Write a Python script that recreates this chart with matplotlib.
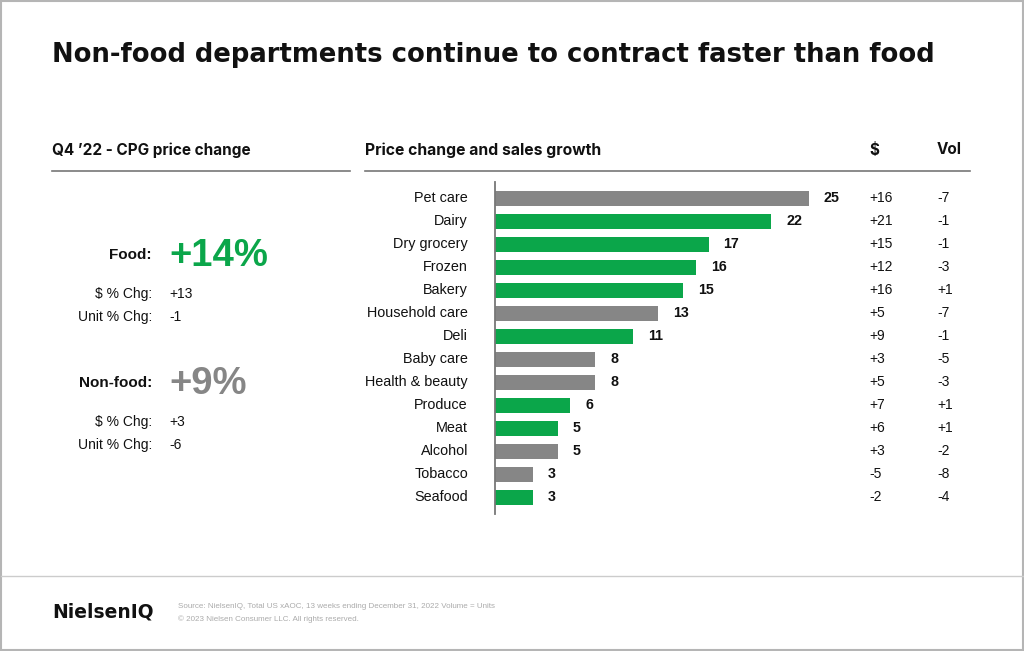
import matplotlib
matplotlib.use("Agg")
import matplotlib.pyplot as plt
from matplotlib.patches import Rectangle

categories = ["Pet care", "Dairy", "Dry grocery", "Frozen", "Bakery", "Household care",
              "Deli", "Baby care", "Health & beauty", "Produce", "Meat", "Alcohol",
              "Tobacco", "Seafood"]
price_change = [25, 22, 17, 16, 15, 13, 11, 8, 8, 6, 5, 5, 3, 3]
is_food = [False, True, True, True, True, False, True, False, False, True, True, False, False, True]
dollar_chg = ["+16", "+21", "+15", "+12", "+16", "+5", "+9", "+3", "+5", "+7", "+6", "+3", "-5", "-2"]
vol_chg = ["-7", "-1", "-1", "-3", "+1", "-7", "-1", "-5", "-3", "+1", "+1", "-2", "-8", "-4"]

summary_groups = ["Food:", "Non-food:"]
summary_price = ["+14%", "+9%"]
summary_dollar = ["+13", "+3"]
summary_unit = ["-1", "-6"]

GREEN = "#0BA64A"
GRAY = "#868686"
INK = "#111111"
BODY = ["Liberation Sans", "DejaVu Sans"]
HEAD = ["Inter", "DejaVu Sans"]
WIDE = ["DejaVu Sans"]

W, H = 1024, 651
fig = plt.figure(figsize=(W / 100, H / 100), dpi=100)
bg = fig.add_axes([0, 0, 1, 1])
bg.set_xlim(0, W)
bg.set_ylim(H, 0)
bg.axis("off")

# outer border and footer rule
bg.add_patch(Rectangle((1, 1), W - 2.5, H - 2.5, fill=False, ec="#b5b5b5", lw=1.5))
bg.plot([1, W - 1], [576, 576], color="#cccccc", lw=1)

# title
bg.text(52, 55, "Non-food departments continue to contract faster than food",
        fontsize=18.6, fontweight="bold", family=WIDE, color=INK, va="center", ha="left")

# section headers
bg.text(52, 150, "Q4 \u201922 - CPG price change", fontsize=11, fontweight="bold",
        family=HEAD, color=INK, va="center")
bg.text(365, 150, "Price change and sales growth", fontsize=11.3, fontweight="bold",
        family=HEAD, color=INK, va="center")
bg.text(869, 150, "$", fontsize=11, fontweight="bold", family=HEAD, color=INK, va="center")
bg.text(937, 150, "Vol", fontsize=11, fontweight="bold", family=HEAD, color=INK, va="center")
bg.plot([52, 350], [171, 171], color="#777777", lw=1.2)
bg.plot([365, 970], [171, 171], color="#777777", lw=1.2)

# left summary panel
base_y = [255, 383]
sum_colors = [GREEN, GRAY]
for g, p, d, u, y0, c in zip(summary_groups, summary_price, summary_dollar, summary_unit,
                             base_y, sum_colors):
    bg.text(152, y0, g, fontsize=11, fontweight="bold", family=BODY, color=INK,
            ha="right", va="center")
    bg.text(169, y0 + 1, p, fontsize=27.5, fontweight="bold", family=BODY, color=c,
            ha="left", va="center")
    bg.text(152, y0 + 39, "$ % Chg:", fontsize=10, family=BODY, color=INK, ha="right", va="center")
    bg.text(169, y0 + 39, d, fontsize=10, family=BODY, color=INK, ha="left", va="center")
    bg.text(152, y0 + 62, "Unit % Chg:", fontsize=10, family=BODY, color=INK, ha="right", va="center")
    bg.text(169, y0 + 62, u, fontsize=10, family=BODY, color=INK, ha="left", va="center")

# bar chart axes
x0, x25 = 495, 809
ytop, ybot = 182, 514
ax = fig.add_axes([x0 / W, (H - ybot) / H, (x25 - x0) / W, (ybot - ytop) / H])
ax.patch.set_alpha(0)
n = len(categories)
pos = list(range(n))
step = 23.0
ax.set_ylim((ybot - 198) / step, (ytop - 198) / step)
ax.set_xlim(0, 25)
colors = [GREEN if f else GRAY for f in is_food]
ax.barh(pos, price_change, height=15 / step, color=colors)
for s in ["top", "right", "bottom"]:
    ax.spines[s].set_visible(False)
ax.spines["left"].set_color("#777777")
ax.spines["left"].set_linewidth(1.3)
ax.set_xticks([])
ax.set_yticks(pos)
ax.set_yticklabels(categories, fontsize=10.4, family=BODY, color=INK, va="center")
ax.tick_params(axis="y", length=0, pad=19.5)

px_per_unit = (x25 - x0) / 25
for i, v in enumerate(price_change):
    ax.text(v + 15 / px_per_unit, i, str(v), fontsize=10.3, fontweight="bold", family=BODY,
            color=INK, ha="left", va="center", clip_on=False)

# $ and Vol columns, positioned by data row through the same axes transform
to_x = lambda px: (px - x0) / px_per_unit
for i in pos:
    ax.text(to_x(869), i, dollar_chg[i], fontsize=10, family=BODY, color=INK,
            ha="left", va="center", clip_on=False)
    ax.text(to_x(937), i, vol_chg[i], fontsize=10, family=BODY, color=INK,
            ha="left", va="center", clip_on=False)

# footer
bg.text(52, 612, "NielsenIQ", fontsize=13.5, fontweight="bold", family=WIDE, color=INK,
        va="center", ha="left")
bg.text(178, 606, "Source: NielsenIQ, Total US xAOC, 13 weeks ending December 31, 2022 Volume = Units",
        fontsize=5.8, family=BODY, color="#ababab", va="center", ha="left")
bg.text(178, 619, "\u00a9 2023 Nielsen Consumer LLC. All rights reserved.",
        fontsize=5.8, family=BODY, color="#ababab", va="center", ha="left")

fig.savefig("out.png", dpi=100)
